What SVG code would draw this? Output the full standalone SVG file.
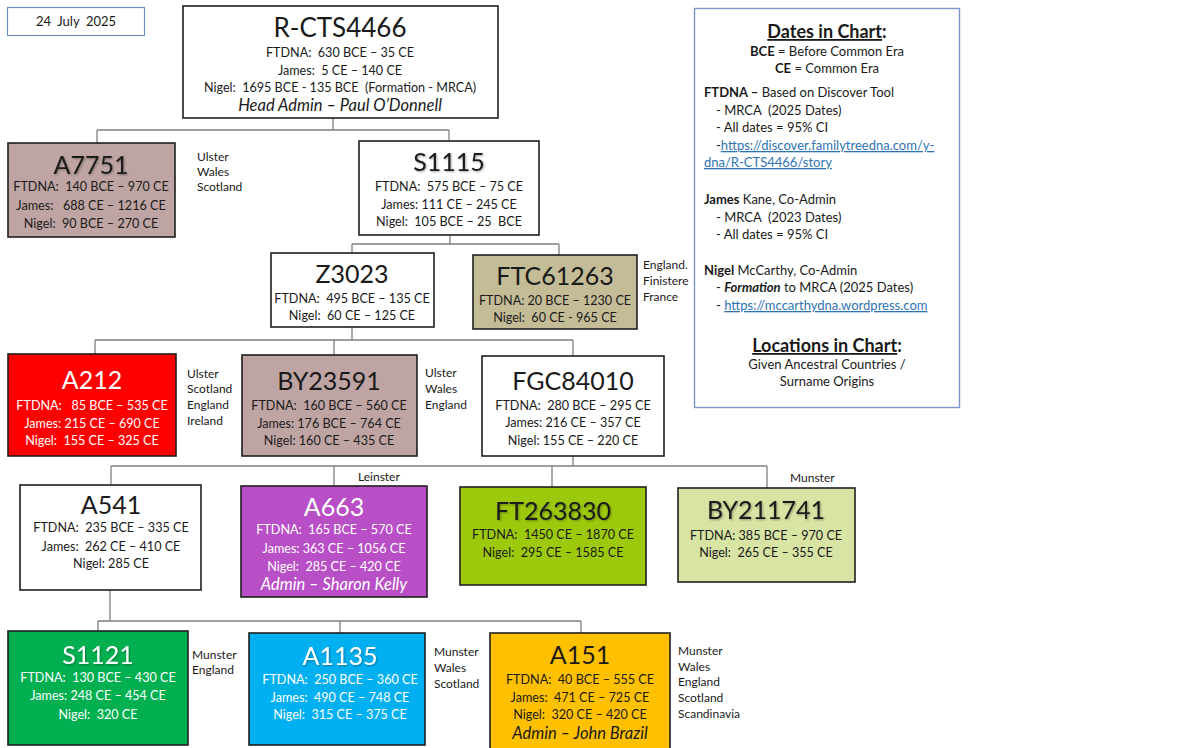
<svg xmlns="http://www.w3.org/2000/svg" width="1180" height="748" viewBox="0 0 1180 748">
<defs>
<filter id="sh" x="-10%" y="-20%" width="130%" height="150%">
<feGaussianBlur in="SourceAlpha" stdDeviation="1"/>
<feOffset dx="1" dy="1" result="b"/>
<feComponentTransfer><feFuncA type="linear" slope="0.35"/></feComponentTransfer>
<feMerge><feMergeNode/><feMergeNode in="SourceGraphic"/></feMerge>
</filter>
</defs>
<style>
text{font-family:Lato,"Open Sans","Liberation Sans",sans-serif;fill:#1a1a1a;white-space:pre}
.box{stroke:#1f1f1f;stroke-width:1.6}
.t{font-size:25px;text-anchor:middle}
.d{font-size:12.6px;text-anchor:middle}
.a{font-size:16.5px;text-anchor:middle;font-style:italic}
.w text{fill:#ffffff}
.loc{font-size:12px}
.conn{fill:none;stroke:#7f7f7f;stroke-width:1.3}
.i{font-size:13px}
.ic{font-size:13px;text-anchor:middle}
.h{font-size:18px;font-weight:bold;text-anchor:middle}
.lnk{fill:#2e74b5;text-decoration:underline}
</style>
<rect width="1180" height="748" fill="#ffffff"/>

<g id="date">
<rect x="7.5" y="7.5" width="137" height="28" fill="#ffffff" stroke="#6f8fc4" stroke-width="1.2"/>
<text x="76" y="26" class="d" style="font-size:13px">24  July  2025</text>
</g>

<g id="connectors">
<path class="conn" d="M333 118V130M97 130H449M97 130V143M449 130V141"/>
<path class="conn" d="M450 235V244M352 244H559M352 244V253M559 244V255"/>
<path class="conn" d="M352 327V340M95 340H573M95 340V354M334 340V355M573 340V356"/>
<path class="conn" d="M573 456V466M111 466H767M111 466V485M334 466V486M552 466V487M767 466V488"/>
<path class="conn" d="M110 590V621M98 621H581M98 621V631M340 621V633M581 621V633"/>
</g>

<g id="R-CTS4466">
<rect class="box" x="183" y="6" width="315" height="112" fill="#ffffff"/>
<text x="340" y="37" class="t" style="font-size:26px">R-CTS4466</text>
<text x="340" y="57" class="d">FTDNA:  630 BCE – 35 CE</text>
<text x="340" y="75" class="d">James:  5 CE – 140 CE</text>
<text x="340" y="92" class="d">Nigel:  1695 BCE - 135 BCE  (Formation - MRCA)</text>
<text x="340" y="111" class="a">Head Admin – Paul O’Donnell</text>
</g>

<g id="A7751">
<rect class="box" x="8" y="143" width="167" height="94" fill="#bea5a3"/>
<text x="91" y="174" class="t" filter="url(#sh)">A7751</text>
<text x="91" y="191" class="d">FTDNA:  140 BCE – 970 CE</text>
<text x="91" y="210" class="d">James:   688 CE – 1216 CE</text>
<text x="91" y="228" class="d">Nigel:  90 BCE – 270 CE</text>
<text x="197" y="161" class="loc">Ulster</text>
<text x="197" y="176" class="loc">Wales</text>
<text x="197" y="191" class="loc">Scotland</text>
</g>

<g id="S1115">
<rect class="box" x="359" y="141" width="180" height="94" fill="#ffffff"/>
<text x="449" y="171" class="t" filter="url(#sh)">S1115</text>
<text x="449" y="191" class="d">FTDNA:  575 BCE – 75 CE</text>
<text x="449" y="209" class="d">James: 111 CE – 245 CE</text>
<text x="449" y="226" class="d">Nigel:  105 BCE – 25  BCE</text>
</g>

<g id="Z3023">
<rect class="box" x="271" y="253" width="163" height="74" fill="#ffffff"/>
<text x="352" y="283" class="t">Z3023</text>
<text x="352" y="303" class="d">FTDNA:  495 BCE – 135 CE</text>
<text x="352" y="320" class="d">Nigel:  60 CE – 125 CE</text>
</g>

<g id="FTC61263">
<rect class="box" x="473" y="255" width="164" height="74" fill="#c4bc97"/>
<text x="555" y="285" class="t">FTC61263</text>
<text x="555" y="305" class="d">FTDNA: 20 BCE – 1230 CE</text>
<text x="555" y="322" class="d">Nigel:  60 CE - 965 CE</text>
<text x="643" y="269" class="loc">England.</text>
<text x="643" y="285" class="loc">Finistere</text>
<text x="643" y="301" class="loc">France</text>
</g>

<g id="A212" class="w">
<rect class="box" x="8" y="354" width="168" height="102" fill="#ff0000"/>
<text x="92" y="389" class="t">A212</text>
<text x="92" y="410" class="d">FTDNA:   85 BCE – 535 CE</text>
<text x="92" y="428" class="d">James: 215 CE – 690 CE</text>
<text x="92" y="445" class="d">Nigel:  155 CE – 325 CE</text>
</g>
<g id="A212-loc">
<text x="187" y="378" class="loc">Ulster</text>
<text x="187" y="393" class="loc">Scotland</text>
<text x="187" y="409" class="loc">England</text>
<text x="187" y="425" class="loc">Ireland</text>
</g>

<g id="BY23591">
<rect class="box" x="242" y="355" width="175" height="101" fill="#bea5a3"/>
<text x="329" y="390" class="t">BY23591</text>
<text x="329" y="410" class="d">FTDNA:  160 BCE – 560 CE</text>
<text x="329" y="428" class="d">James: 176 BCE – 764 CE</text>
<text x="329" y="445" class="d">Nigel: 160 CE – 435 CE</text>
<text x="425" y="377" class="loc">Ulster</text>
<text x="425" y="393" class="loc">Wales</text>
<text x="425" y="409" class="loc">England</text>
</g>

<g id="FGC84010">
<rect class="box" x="482" y="356" width="182" height="100" fill="#ffffff"/>
<text x="573" y="390" class="t">FGC84010</text>
<text x="573" y="410" class="d">FTDNA:  280 BCE – 295 CE</text>
<text x="573" y="427" class="d">James: 216 CE – 357 CE</text>
<text x="573" y="445" class="d">Nigel: 155 CE – 220 CE</text>
</g>

<g id="A541">
<rect class="box" x="20" y="485" width="181" height="105" fill="#ffffff"/>
<text x="111" y="514" class="t">A541</text>
<text x="111" y="532" class="d">FTDNA:  235 BCE – 335 CE</text>
<text x="111" y="551" class="d">James:  262 CE – 410 CE</text>
<text x="111" y="568" class="d">Nigel: 285 CE</text>
</g>

<g id="A663" class="w">
<rect class="box" x="241" y="486" width="186" height="111" fill="#b94fc6"/>
<text x="334" y="516" class="t">A663</text>
<text x="334" y="534" class="d">FTDNA:  165 BCE – 570 CE</text>
<text x="334" y="553" class="d">James: 363 CE – 1056 CE</text>
<text x="334" y="571" class="d">Nigel:  285 CE – 420 CE</text>
<text x="334" y="590" class="a">Admin – Sharon Kelly</text>
</g>
<g id="A663-loc"><text x="358" y="481" class="loc">Leinster</text></g>

<g id="FT263830">
<rect class="box" x="460" y="487" width="186" height="98" fill="#9dc90c"/>
<text x="553" y="520" class="t" filter="url(#sh)">FT263830</text>
<text x="553" y="539" class="d">FTDNA:  1450 CE – 1870 CE</text>
<text x="553" y="557" class="d">Nigel:  295 CE – 1585 CE</text>
</g>

<g id="BY211741">
<rect class="box" x="678" y="488" width="177" height="94" fill="#d7e4a3"/>
<text x="766" y="519" class="t" filter="url(#sh)">BY211741</text>
<text x="766" y="540" class="d">FTDNA: 385 BCE – 970 CE</text>
<text x="766" y="557" class="d">Nigel:  265 CE – 355 CE</text>
<text x="790" y="482" class="loc">Munster</text>
</g>

<g id="S1121" class="w">
<rect class="box" x="8" y="631" width="180" height="114" fill="#00b050"/>
<text x="98" y="664" class="t" filter="url(#sh)">S1121</text>
<text x="98" y="682" class="d">FTDNA:  130 BCE – 430 CE</text>
<text x="98" y="700" class="d">James: 248 CE – 454 CE</text>
<text x="98" y="719" class="d">Nigel:  320 CE</text>
</g>
<g id="S1121-loc">
<text x="192" y="659" class="loc">Munster</text>
<text x="192" y="674" class="loc">England</text>
</g>

<g id="A1135" class="w">
<rect class="box" x="249" y="633" width="176" height="112" fill="#00b0f0"/>
<text x="340" y="665" class="t" filter="url(#sh)">A1135</text>
<text x="340" y="684" class="d">FTDNA:  250 BCE – 360 CE</text>
<text x="340" y="702" class="d">James:  490 CE – 748 CE</text>
<text x="340" y="719" class="d">Nigel:  315 CE – 375 CE</text>
</g>
<g id="A1135-loc">
<text x="434" y="656" class="loc">Munster</text>
<text x="434" y="672" class="loc">Wales</text>
<text x="434" y="688" class="loc">Scotland</text>
</g>

<g id="A151">
<rect class="box" x="490" y="633" width="180" height="118" fill="#ffc000"/>
<text x="580" y="664" class="t">A151</text>
<text x="580" y="684" class="d">FTDNA:  40 BCE – 555 CE</text>
<text x="580" y="702" class="d">James:  471 CE – 725 CE</text>
<text x="580" y="719" class="d">Nigel:  320 CE – 420 CE</text>
<text x="580" y="739" class="a">Admin – John Brazil</text>
<text x="678" y="655" class="loc">Munster</text>
<text x="678" y="671" class="loc">Wales</text>
<text x="678" y="686" class="loc">England</text>
<text x="678" y="702" class="loc">Scotland</text>
<text x="678" y="718" class="loc">Scandinavia</text>
</g>

<g id="legend">
<rect x="694.5" y="8.5" width="265" height="399" fill="#ffffff" stroke="#7b97c9" stroke-width="1.4"/>
<text x="827" y="38" class="h"><tspan text-decoration="underline">Dates in Chart</tspan>:</text>
<text x="827" y="56" class="ic"><tspan font-weight="bold">BCE</tspan> = Before Common Era</text>
<text x="827" y="73" class="ic"><tspan font-weight="bold">CE</tspan> = Common Era</text>
<text x="704" y="97" class="i"><tspan font-weight="bold">FTDNA –</tspan> Based on Discover Tool</text>
<text x="716" y="115" class="i">- MRCA  (2025 Dates)</text>
<text x="716" y="132" class="i">- All dates = 95% CI</text>
<text x="716" y="150" class="i">-<tspan class="lnk">https://discover.familytreedna.com/y-</tspan></text>
<text x="704" y="167" class="i lnk">dna/R-CTS4466/story</text>
<text x="704" y="204" class="i"><tspan font-weight="bold">James</tspan> Kane, Co-Admin</text>
<text x="716" y="222" class="i">- MRCA  (2023 Dates)</text>
<text x="716" y="239" class="i">- All dates = 95% CI</text>
<text x="704" y="275" class="i"><tspan font-weight="bold">Nigel</tspan> McCarthy, Co-Admin</text>
<text x="716" y="292" class="i">- <tspan font-weight="bold" font-style="italic">Formation</tspan> to MRCA (2025 Dates)</text>
<text x="716" y="310" class="i">- <tspan class="lnk">https://mccarthydna.wordpress.com</tspan></text>
<text x="827" y="352" class="h"><tspan text-decoration="underline">Locations in Chart</tspan>:</text>
<text x="827" y="369" class="ic">Given Ancestral Countries /</text>
<text x="827" y="386" class="ic">Surname Origins</text>
</g>
</svg>
